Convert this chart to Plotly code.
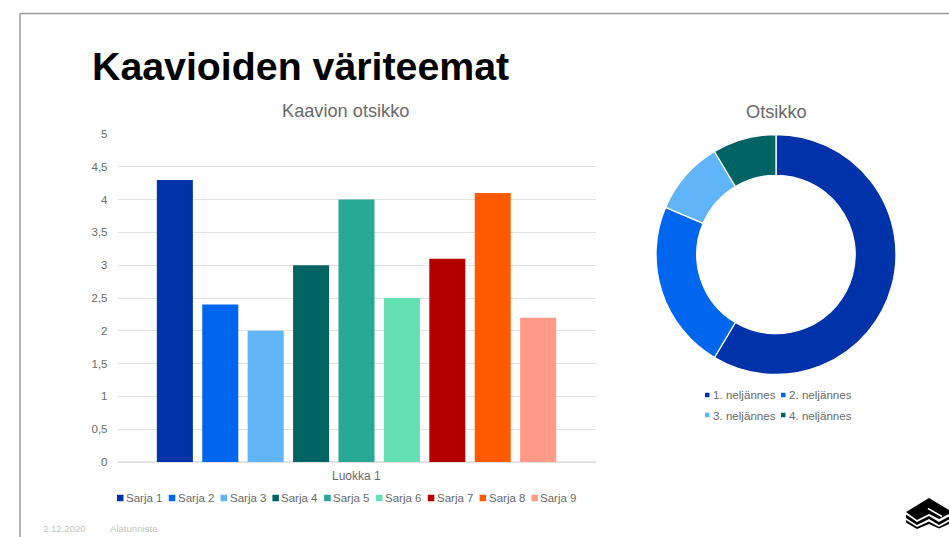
import plotly.graph_objects as go

W, H = 949, 537

series_names = ["Sarja 1", "Sarja 2", "Sarja 3", "Sarja 4", "Sarja 5", "Sarja 6", "Sarja 7", "Sarja 8", "Sarja 9"]
series_values = [4.3, 2.4, 2.0, 3.0, 4.0, 2.5, 3.1, 4.1, 2.2]
series_colors = ["#0033AA", "#0066EE", "#60B4F8", "#006464", "#27A996", "#64E1B4", "#B40000", "#FF5A00", "#FF9B87"]
category = ["Luokka 1"]
tick_vals = [0, 0.5, 1, 1.5, 2, 2.5, 3, 3.5, 4, 4.5, 5]
tick_text = ["0", "0,5", "1", "1,5", "2", "2,5", "3", "3,5", "4", "4,5", "5"]
quarters = ["1. neljännes", "2. neljännes", "3. neljännes", "4. neljännes"]
quarter_values = [8.2, 3.2, 1.4, 1.2]
quarter_colors = ["#0033AA", "#0066EE", "#60B4F8", "#006464"]

GREY = "#6A6A6A"
FONT = "Liberation Sans, Arial, sans-serif"


def px(x):
    return x / W


def py(y):
    return 1 - y / H


fig = go.Figure()
for name, val, col in zip(series_names, series_values, series_colors):
    fig.add_trace(go.Bar(name=name, x=category, y=[val], marker=dict(color=col, line=dict(width=0)), showlegend=False))

fig.add_trace(go.Pie(
    labels=quarters, values=quarter_values, hole=0.66, sort=False, direction="clockwise", rotation=0,
    marker=dict(colors=quarter_colors, line=dict(color="white", width=1.3)),
    textinfo="none", hoverinfo="label+value", showlegend=False,
    domain=dict(x=[px(656), px(896)], y=[py(374.5), py(134.5)]),
))

annotations = []
shapes = []


def text(x, y, s, size, color=GREY, anchor="center", weight=None):
    annotations.append(dict(
        x=px(x), y=py(y), xref="paper", yref="paper", text=s, showarrow=False,
        xanchor=anchor, yanchor="middle", xshift=0, yshift=0,
        font=dict(family=FONT, size=size, color=color, weight=weight),
    ))


def swatch(x, y, size, color):
    shapes.append(dict(type="rect", xref="paper", yref="paper", x0=px(x), x1=px(x + size),
                       y0=py(y + size / 2), y1=py(y - size / 2), fillcolor=color, line=dict(width=0)))


text(90, 66, "Kaavioiden väriteemat", 39.3, "#000000", "left", 700)
text(345, 111, "Kaavion otsikko", 18.2)
text(776, 112, "Otsikko", 18.2)
text(356, 476, "Luokka 1", 12)

# bar legend
for i, (name, col) in enumerate(zip(series_names, series_colors)):
    x0 = 117 + i * 51.8
    swatch(x0, 498, 6.5, col)
    text(x0 + 7, 498, name, 11.5, anchor="left")

# donut legend
leg_pos = [(705, 395), (781, 395), (705, 415), (781, 415)]
for (x0, y0), name, col in zip(leg_pos, quarters, quarter_colors):
    swatch(x0, y0, 4.5, col)
    text(x0 + 6, y0, name, 11.6, anchor="left")

# footer
text(41, 528, "2.12.2020", 9.6, "#C4C4C4", "left")
text(108, 528, "Alatunniste", 9.6, "#C4C4C4", "left")

# slide frame
for (x0, y0, x1, y1) in [(20, 13.5, W, 13.5), (20, 13.5, 20, H)]:
    shapes.append(dict(type="line", xref="paper", yref="paper", x0=px(x0), x1=px(x1), y0=py(y0), y1=py(y1),
                       line=dict(color="#999999", width=1.5)))


# logo: top rhomb with a white slit and two zig-zag layers
def poly(points):
    path = "M" + " L".join(f"{px(x):.5f},{py(y):.5f}" for x, y in points) + " Z"
    shapes.append(dict(type="path", xref="paper", yref="paper", path=path, fillcolor="#000000", line=dict(width=0)))


poly([(906, 512), (929, 498), (949, 510), (949, 514), (939, 519), (929, 514), (917, 520)])
poly([(906, 514.5), (917, 522), (929, 516), (939, 522), (949, 516.5), (949, 519.5), (939, 525), (929, 519), (917, 525), (906, 518)])
poly([(906, 520), (917, 527), (929, 521.5), (939, 527), (949, 521.5), (949, 524), (939, 528.5), (929, 524), (917, 529), (906, 522.5)])
shapes.append(dict(type="line", xref="paper", yref="paper", x0=px(928), y0=py(508.5), x1=px(942), y1=py(516.5),
                   line=dict(color="white", width=1.5)))

fig.update_layout(
    width=W, height=H, autosize=False,
    margin=dict(l=0, r=0, t=0, b=0, pad=0, autoexpand=False),
    paper_bgcolor="white", plot_bgcolor="white",
    barmode="group", bargap=0.145, bargroupgap=0.207,
    font=dict(family=FONT, color=GREY),
    showlegend=False,
    annotations=annotations, shapes=shapes,
    xaxis=dict(domain=[px(117.5), px(595.5)], showticklabels=False, showgrid=False, zeroline=False,
               showline=False, ticks="", fixedrange=True, automargin=False),
    yaxis=dict(domain=[py(462), py(134)], range=[0, 5], tickvals=tick_vals, ticktext=tick_text,
               tickfont=dict(size=11.5, color=GREY), gridcolor="#E2E2E2", gridwidth=1,
               zeroline=True, zerolinecolor="#E2E2E2", zerolinewidth=1.5, showline=False, ticks="",
               ticklabelstandoff=9, fixedrange=True, automargin=False),
)

fig.write_html("out.html", config=dict(displayModeBar=False),
               post_script="document.body.style.margin='0';")
